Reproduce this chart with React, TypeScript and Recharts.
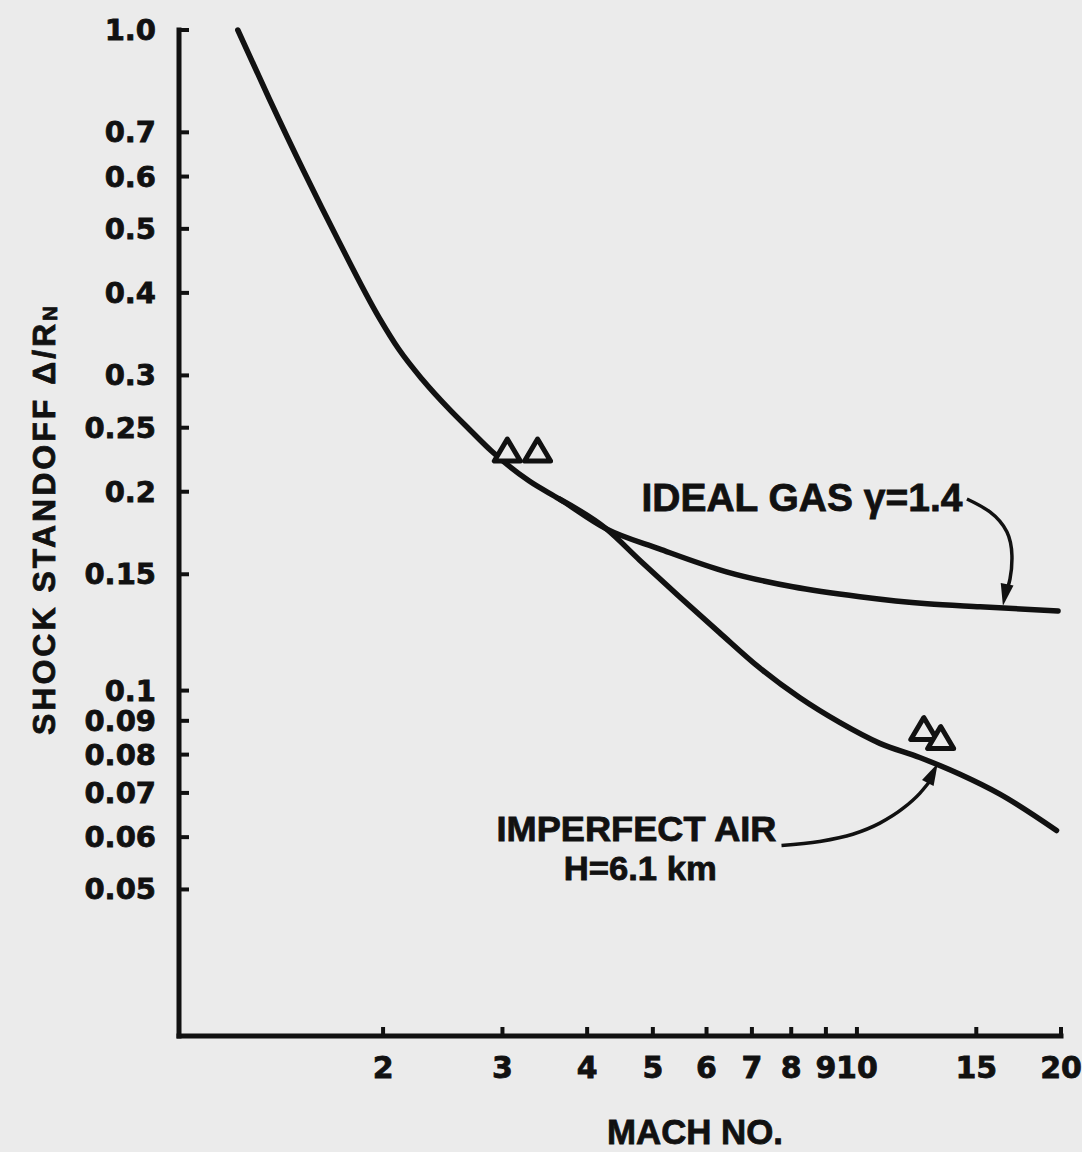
import {
  ComposedChart,
  Line,
  ReferenceDot,
  Scatter,
  XAxis,
  YAxis,
} from "recharts";

const INK = "#111";
const PAPER = "#ebebeb";
const NUM_FONT = "'DejaVu Sans', sans-serif";
const LETTER_FONT = "'Liberation Sans', Arial, sans-serif";

// axis ticks
const machTicks = [2, 3, 4, 5, 6, 7, 8, 9, 10, 15, 20];
const standoffTicks = [1.0, 0.7, 0.6, 0.5, 0.4, 0.3, 0.25, 0.2, 0.15, 0.1, 0.09, 0.08, 0.07, 0.06, 0.05];

// ideal gas, gamma = 1.4
const idealGas = [
  { mach: 1.221, standoff: 1.0 },
  { mach: 1.357, standoff: 0.789 },
  { mach: 1.529, standoff: 0.61 },
  { mach: 1.722, standoff: 0.478 },
  { mach: 1.973, standoff: 0.367 },
  { mach: 2.11, standoff: 0.3286 },
  { mach: 2.284, standoff: 0.296 },
  { mach: 2.504, standoff: 0.2667 },
  { mach: 2.68, standoff: 0.2487 },
  { mach: 2.89, standoff: 0.2305 },
  { mach: 3.286, standoff: 0.2076 },
  { mach: 3.64, standoff: 0.195 },
  { mach: 4.27, standoff: 0.1757 },
  { mach: 5.11, standoff: 0.1639 },
  { mach: 6.42, standoff: 0.1513 },
  { mach: 8.04, standoff: 0.1436 },
  { mach: 10.1, standoff: 0.1387 },
  { mach: 12.7, standoff: 0.1353 },
  { mach: 15.2, standoff: 0.1339 },
  { mach: 19.8, standoff: 0.132 },
];

// imperfect air, H = 6.1 km (branches off the ideal curve near M = 4)
const imperfectAir = [
  { mach: 3.64, standoff: 0.195 },
  { mach: 4.27, standoff: 0.1757 },
  { mach: 4.777, standoff: 0.1577 },
  { mach: 5.473, standoff: 0.1387 },
  { mach: 6.27, standoff: 0.1224 },
  { mach: 7.18, standoff: 0.1083 },
  { mach: 8.23, standoff: 0.0976 },
  { mach: 9.43, standoff: 0.0895 },
  { mach: 10.81, standoff: 0.0832 },
  { mach: 12.38, standoff: 0.0792 },
  { mach: 14.19, standoff: 0.0747 },
  { mach: 16.25, standoff: 0.0697 },
  { mach: 19.7, standoff: 0.0614 },
];

// experimental points (triangles)
const measured = [
  { mach: 3.05, standoff: 0.2305 },
  { mach: 3.38, standoff: 0.2305 },
  { mach: 12.55, standoff: 0.0873 },
  { mach: 13.29, standoff: 0.0846 },
];

// leader lines from the labels to the curves
const idealLeader = [
  { mach: 14.53, standoff: 0.195 },
  { mach: 15.71, standoff: 0.1864 },
  { mach: 16.64, standoff: 0.1739 },
  { mach: 16.93, standoff: 0.16 },
  { mach: 16.82, standoff: 0.1476 },
  { mach: 16.53, standoff: 0.1391 },
];
const imperfectLeader = [
  { mach: 7.74, standoff: 0.0583 },
  { mach: 8.81, standoff: 0.0591 },
  { mach: 9.86, standoff: 0.0606 },
  { mach: 10.81, standoff: 0.063 },
  { mach: 11.69, standoff: 0.0663 },
  { mach: 12.38, standoff: 0.0699 },
  { mach: 12.81, standoff: 0.0729 },
];

function MachTick({ x, y, payload }: any) {
  return (
    <g>
      <line x1={x} y1={y} x2={x} y2={y - 9} stroke={INK} strokeWidth={4} />
      <text x={x} y={y + 42} textAnchor="middle" fill={INK} stroke={INK} strokeWidth={0.8} fontFamily={NUM_FONT} fontWeight="bold" fontSize={30}>
        {payload.value}
      </text>
    </g>
  );
}

function StandoffTick({ x, y, payload }: any) {
  const label = payload.value === 1 ? "1.0" : String(payload.value);
  return (
    <g>
      <line x1={x} y1={y} x2={x + 10} y2={y} stroke={INK} strokeWidth={4} />
      <text x={x - 23} y={y + 10} textAnchor="end" fill={INK} stroke={INK} strokeWidth={0.8} fontFamily={NUM_FONT} fontWeight="bold" fontSize={29}>
        {label}
      </text>
    </g>
  );
}

function YTitle() {
  return (
    <text
      transform="rotate(-90, 55, 735)"
      x={55}
      y={735}
      fill={INK}
      stroke={INK}
      strokeWidth={0.8}
      fontFamily={LETTER_FONT}
      fontWeight="bold"
      fontSize={32}
      letterSpacing={3}
    >
      SHOCK STANDOFF Δ/R<tspan fontSize={20} dy={2}>N</tspan>
    </text>
  );
}

function XTitle() {
  return (
    <text x={607} y={1144} fill={INK} stroke={INK} strokeWidth={0.8} fontFamily={LETTER_FONT} fontWeight="bold" fontSize={35} textLength={176} lengthAdjust="spacingAndGlyphs">
      MACH NO.
    </text>
  );
}

function Triangle({ cx, cy }: any) {
  return (
    <polygon
      points={`${cx},${cy - 12} ${cx - 13},${cy + 10} ${cx + 13},${cy + 10}`}
      fill={PAPER}
      stroke={INK}
      strokeWidth={5}
      strokeLinejoin="round"
    />
  );
}

function Arrowhead({ cx, cy, angle }: any) {
  return (
    <polygon
      points="0,0 -22,-6.5 -22,6.5"
      transform={`translate(${cx},${cy}) rotate(${angle})`}
      fill={INK}
    />
  );
}

function Note({ cx, cy, text, size, length, anchor }: any) {
  return (
    <text
      x={cx}
      y={cy}
      textAnchor={anchor}
      fill={INK}
      stroke={INK}
      strokeWidth={0.8}
      fontFamily={LETTER_FONT}
      fontWeight="bold"
      fontSize={size}
      textLength={length}
      lengthAdjust="spacingAndGlyphs"
    >
      {text}
    </text>
  );
}

export default function App() {
  return (
    <div style={{ position: "absolute", left: 0, top: 0, width: 1082, height: 1152, background: PAPER }}>
      <ComposedChart width={1082} height={1152} margin={{ top: 30, right: 21, bottom: 0, left: 0 }}>
        <XAxis
          type="number"
          dataKey="mach"
          scale="log"
          domain={[1, 20]}
          ticks={machTicks}
          interval={0}
          height={116}
          tickSize={0}
          tickMargin={0}
          tickLine={false}
          axisLine={{ stroke: INK, strokeWidth: 5, strokeLinecap: "square" }}
          tick={<MachTick />}
          label={<XTitle />}
        />
        <YAxis
          type="number"
          dataKey="standoff"
          scale="log"
          domain={[0.03, 1]}
          ticks={standoffTicks}
          interval={0}
          width={179}
          tickSize={0}
          tickMargin={0}
          tickLine={false}
          axisLine={{ stroke: INK, strokeWidth: 5, strokeLinecap: "square" }}
          tick={<StandoffTick />}
          label={<YTitle />}
        />
        <Line data={idealGas} dataKey="standoff" type="monotone" stroke={INK} strokeWidth={5.5} strokeLinecap="round" dot={false} activeDot={false} isAnimationActive={false} />
        <Line data={imperfectAir} dataKey="standoff" type="monotone" stroke={INK} strokeWidth={5.5} strokeLinecap="round" dot={false} activeDot={false} isAnimationActive={false} />
        <Line data={idealLeader} dataKey="standoff" type="natural" stroke={INK} strokeWidth={3.5} dot={false} activeDot={false} isAnimationActive={false} />
        <Line data={imperfectLeader} dataKey="standoff" type="monotone" stroke={INK} strokeWidth={3.5} dot={false} activeDot={false} isAnimationActive={false} />
        <Scatter data={measured} dataKey="standoff" shape={<Triangle />} isAnimationActive={false} />
        <ReferenceDot x={16.42} y={0.1344} r={0} shape={(p: any) => <Arrowhead {...p} angle={101} />} />
        <ReferenceDot x={13.16} y={0.0776} r={0} shape={(p: any) => <Arrowhead {...p} angle={-63} />} />
        <ReferenceDot x={4.81} y={0.187} r={0} shape={(p: any) => <Note {...p} text="IDEAL  GAS  γ=1.4" size={39} length={321} anchor="start" />} />
        <ReferenceDot x={2.94} y={0.0593} r={0} shape={(p: any) => <Note {...p} text="IMPERFECT  AIR" size={35} length={280} anchor="start" />} />
        <ReferenceDot x={4.79} y={0.0516} r={0} shape={(p: any) => <Note {...p} text="H=6.1 km" size={34} length={153} anchor="middle" />} />
      </ComposedChart>
    </div>
  );
}
